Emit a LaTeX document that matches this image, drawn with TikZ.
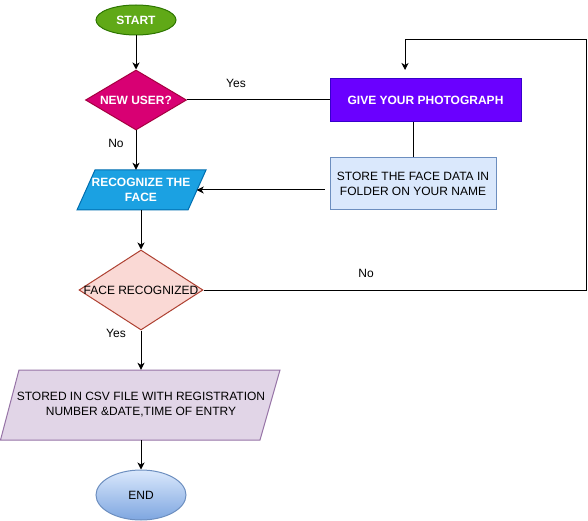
\documentclass[tikz,border=0pt]{standalone}
\usepackage{fontspec}
\setmainfont{Liberation Sans}
\usetikzlibrary{shapes.geometric,arrows.meta}
\definecolor{stF}{HTML}{60A917}\definecolor{stD}{HTML}{2D7600}
\definecolor{nuF}{HTML}{D80073}\definecolor{nuD}{HTML}{A50040}
\definecolor{reF}{HTML}{1BA1E2}\definecolor{reD}{HTML}{006EAF}
\definecolor{gvF}{HTML}{6A00FF}\definecolor{gvD}{HTML}{3700CC}
\definecolor{sfF}{HTML}{DAE8FC}\definecolor{sfD}{HTML}{6C8EBF}
\definecolor{frF}{HTML}{FAD9D5}\definecolor{frD}{HTML}{AE4132}
\definecolor{csF}{HTML}{E1D5E7}\definecolor{csD}{HTML}{9673A6}
\definecolor{enB}{HTML}{7EA6E0}
\begin{document}
\begin{tikzpicture}[x=1pt,y=-1pt,
  font=\fontsize{12}{15}\selectfont,
  line/.style={line width=1pt, draw=black},
  arr/.style={line, -{Stealth[length=7pt,width=7pt,inset=2pt]}},
  shp/.style={line width=1pt, inner sep=0pt},
  wtext/.style={text=white, font=\fontsize{12}{15}\selectfont\bfseries, align=center, inner sep=0pt},
  btext/.style={text=black, align=center, inner sep=0pt},
  lbl/.style={inner sep=0pt, text=black}]
\useasboundingbox (0,0) rectangle (588,521);
% shapes
\node[shp, ellipse, draw=stD, fill=stF, minimum width=80pt, minimum height=30pt] (st) at (136,20) {};
\node[wtext] (stt) at (st.center) {START};
\node[shp, diamond, draw=nuD, fill=nuF, minimum width=101pt, minimum height=60pt] (nu) at (136,100) {};
\node[wtext] (nut) at (nu.center) {NEW USER?};
\node[shp, rectangle, draw=gvD, fill=gvF, minimum width=191pt, minimum height=43pt, wtext] (gv) at (425.5,100) {GIVE YOUR PHOTOGRAPH};
\node[shp, rectangle, draw=sfD, fill=sfF, minimum width=166pt, minimum height=52pt, btext] (sf) at (413,184) {STORE THE FACE DATA IN\\FOLDER ON YOUR NAME};
\filldraw[line width=1pt, draw=reD, fill=reF] (95,170) -- (206,170) -- (188,210) -- (77,210) -- cycle;
\node[wtext, minimum width=111pt, minimum height=40pt] (re) at (141,190) {RECOGNIZE THE\\FACE};
\node[shp, diamond, draw=frD, fill=frF, minimum width=124pt, minimum height=80pt] (fr) at (141,290) {};
\node[btext] (frt) at (fr.center) {FACE RECOGNIZED};
\filldraw[line width=1pt, draw=csD, fill=csF] (19,370) -- (280,370) -- (260,440) -- (0.5,440) -- cycle;
\node[btext, minimum width=240pt, minimum height=70pt] (cs) at (141,405) {STORED IN CSV FILE WITH REGISTRATION\\NUMBER \&DATE,TIME OF ENTRY};
\node[shp, ellipse, draw=sfD, top color=sfF, bottom color=enB, minimum width=90pt, minimum height=50pt] (en) at (141,495) {};
\node[btext] (ent) at (en.center) {END};
% labels
\node[lbl] (l1) at (236,83) {Yes};
\node[lbl] (l2) at (116,143) {No};
\node[lbl] (l3) at (366,273) {No};
\node[lbl] (l4) at (116,333) {Yes};
% coordinates
\coordinate (rtop) at (586,40);
\coordinate (ltop) at (405,40);
\coordinate (gtip) at (405,70);
% connectors
\draw[arr] (st.south) -- (nu.north);
\draw[line] (nu.east) -- (gv.west);
\draw[line] (sf.north) -- (sf.north |- gv.south);
\draw[arr, shorten <=5pt] (sf.west |- re.east) -- (re.east);
\draw[arr] (nu.south) -- (nu.south |- re.north);
\draw[arr] (re.south) -- (fr.north);
\draw[arr] (fr.east) -| (rtop) -- (ltop) -- (gtip);
\draw[arr] (fr.south) -- (cs.north);
\draw[arr] (cs.south) -- (en.north);
\end{tikzpicture}
\end{document}
